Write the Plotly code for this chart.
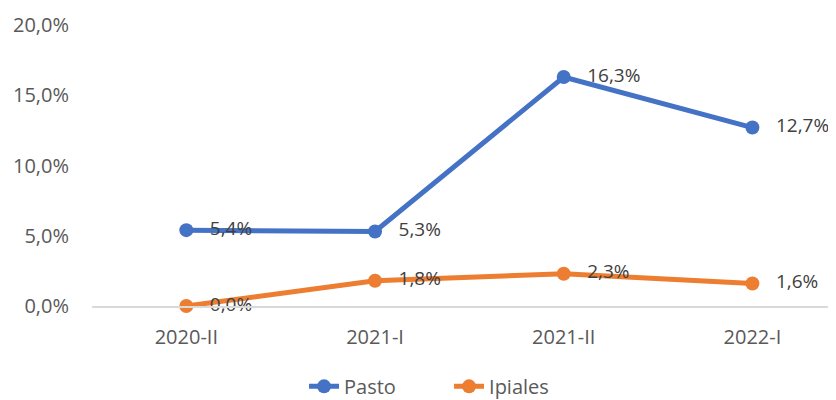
import plotly.graph_objects as go

categories = ["2020-II", "2021-I", "2021-II", "2022-I"]
pasto = [0.054, 0.053, 0.163, 0.127]
ipiales = [0.000, 0.018, 0.023, 0.016]
y_ticks = [0, 0.05, 0.10, 0.15, 0.20]

FONT = "Open Sans"
fig = go.Figure()
for name, vals, color in [("Pasto", pasto, "#4472C4"), ("Ipiales", ipiales, "#ED7D31")]:
    fig.add_trace(go.Scatter(
        x=categories, y=vals, name=name, mode="lines+markers",
        line=dict(color=color, width=5),
        marker=dict(color=color, size=14),
        cliponaxis=False,
    ))
for vals in [pasto, ipiales]:
    fig.add_trace(go.Scatter(
        x=categories, y=vals, mode="markers+text", showlegend=False, hoverinfo="skip",
        marker=dict(size=36, color="rgba(0,0,0,0)"),
        texttemplate="%{y:.1%}", textposition="middle right",
        textfont=dict(family=FONT, size=19, color="#404040"),
        cliponaxis=False,
    ))

fig.update_layout(
    width=828, height=392,
    margin=dict(l=84, r=0, t=17, b=94, autoexpand=False),
    paper_bgcolor="white", plot_bgcolor="white",
    separators=",.",
    font=dict(family=FONT, size=20, color="#595959"),
    showlegend=True,
    legend=dict(orientation="h", x=0.285, xanchor="left", y=-0.286, yanchor="middle",
                font=dict(size=20, color="#595959"), entrywidth=100, entrywidthmode="pixels"),
    xaxis=dict(range=[-0.5, 3.443], showgrid=False, showline=True, linecolor="#D9D9D9",
               linewidth=1.5, ticks="", ticklabelstandoff=12, zeroline=False, automargin=False),
    yaxis=dict(range=[0, 0.2], tickvals=y_ticks, tickformat=".1%", showgrid=False,
               showline=False, zeroline=False, ticks="", ticklabelstandoff=22, automargin=False),
)
fig.write_html("out.html")
